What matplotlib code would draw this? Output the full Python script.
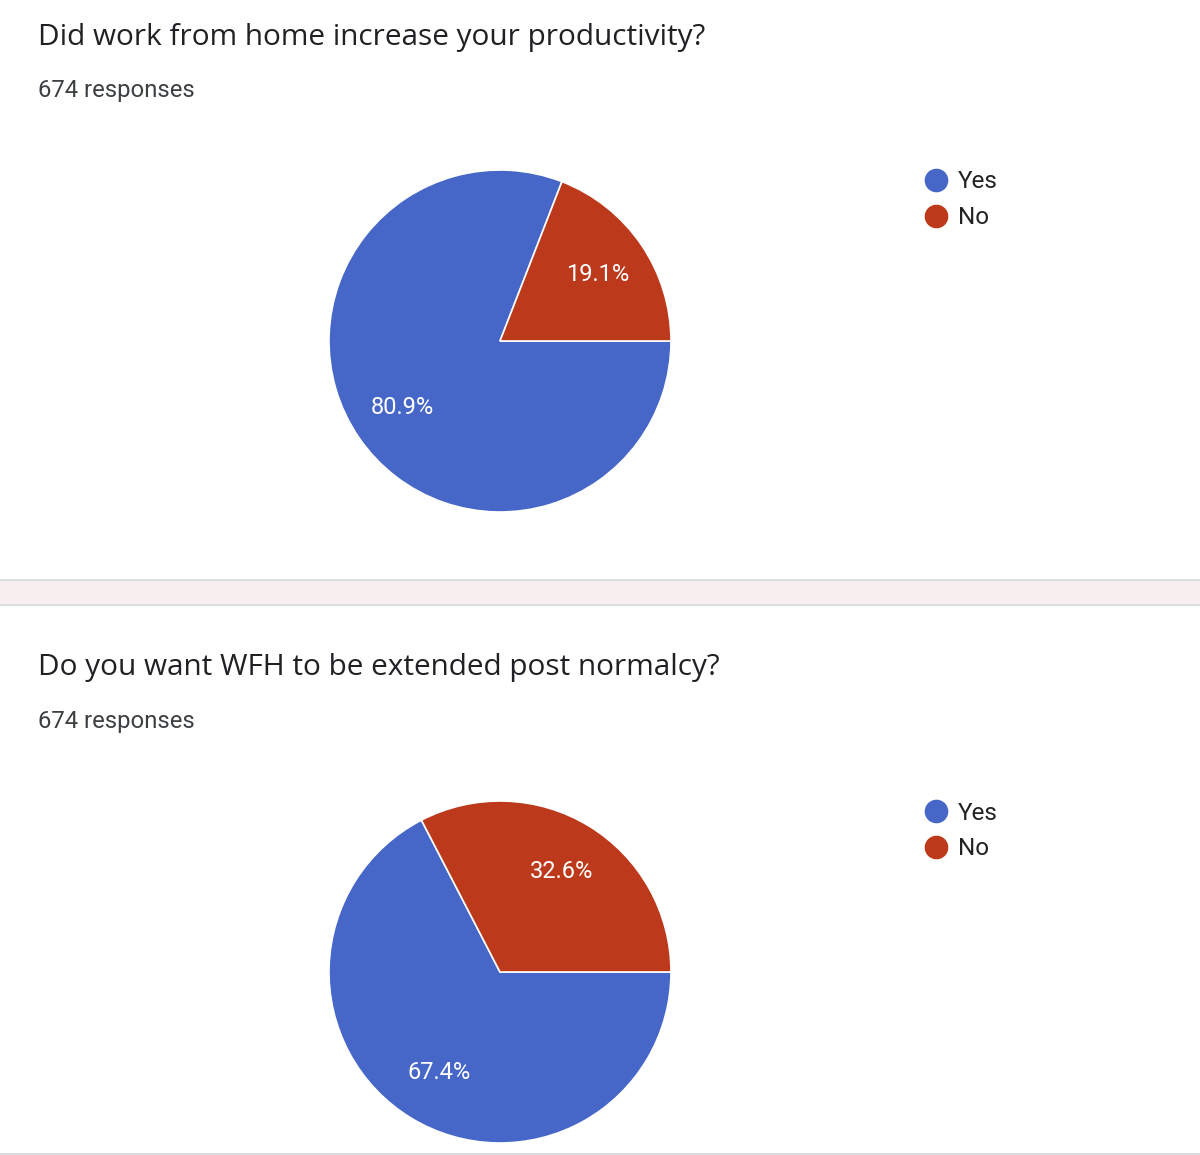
import matplotlib
matplotlib.use("Agg")
import matplotlib.pyplot as plt
from matplotlib.patches import Rectangle
from matplotlib.lines import Line2D

categories = ["Yes", "No"]
titles = ["Did work from home increase your productivity?",
          "Do you want WFH to be extended post normalcy?"]
responses = ["674 responses", "674 responses"]
q1_values = [80.9, 19.1]
q2_values = [67.4, 32.6]
colors = ["#4767C8", "#BC3A1B"]

W, H = 1200, 1155
fig = plt.figure(figsize=(W / 100, H / 100), dpi=100, facecolor="white")

def px_rect(x, y, w, h):
    # pixel box (top-left origin) -> figure fraction
    return [x / W, 1 - (y + h) / H, w / W, h / H]

# card separators
fig.patches.append(Rectangle((0, 1 - 604 / H), 1, 25 / H, transform=fig.transFigure,
                             facecolor="#F8EEF0", edgecolor="none", zorder=0))
for yy in (579.5, 604.5, 1153.5):
    fig.add_artist(Line2D([0, 1], [1 - yy / H] * 2, transform=fig.transFigure,
                          color="#DADCE0", lw=1.5, zorder=1))

panels = [(q1_values, 0), (q2_values, 631)]
R = 171.0
for i, (vals, off) in enumerate(panels):
    fig.text(38 / W, 1 - (37 + off) / H, titles[i], fontsize=21.4, family="Open Sans",
             color="#202124", va="center", ha="left")
    fig.text(38 / W, 1 - (90.5 + off) / H, responses[i], fontsize=17.2, family="Roboto",
             color="#3C4043", va="center", ha="left")

    cx, cy = 500, 341 + off
    box = 400
    ax = fig.add_axes(px_rect(cx - box / 2, cy - box / 2, box, box))
    L = (box / 2) / R
    ax.set_aspect("equal")
    ax.axis("off")
    start = 360 * vals[1] / sum(vals)
    wedges, texts, autotexts = ax.pie(
        vals, colors=colors, startangle=start, counterclock=True, radius=1.0,
        autopct="%1.1f%%", pctdistance=0.69,
        wedgeprops=dict(edgecolor="white", linewidth=1.2),
        textprops=dict(color="white", fontsize=17, family="Roboto"))
    ax.set_xlim(-L, L)
    ax.set_ylim(-L, L)

    handles = [Line2D([], [], marker="o", linestyle="none", markersize=16,
                      markerfacecolor=c, markeredgecolor=c) for c in colors]
    fig.legend(handles, categories, loc="upper left",
               bbox_to_anchor=(924 / W, 1 - (170.5 + off) / H), frameon=False,
               prop=dict(family="Roboto", size=17.5), labelcolor="#222222",
               handletextpad=0.4, labelspacing=0.52, handlelength=1.0,
               borderaxespad=0, borderpad=0)

fig.savefig("out.png", dpi=100, facecolor="white")
